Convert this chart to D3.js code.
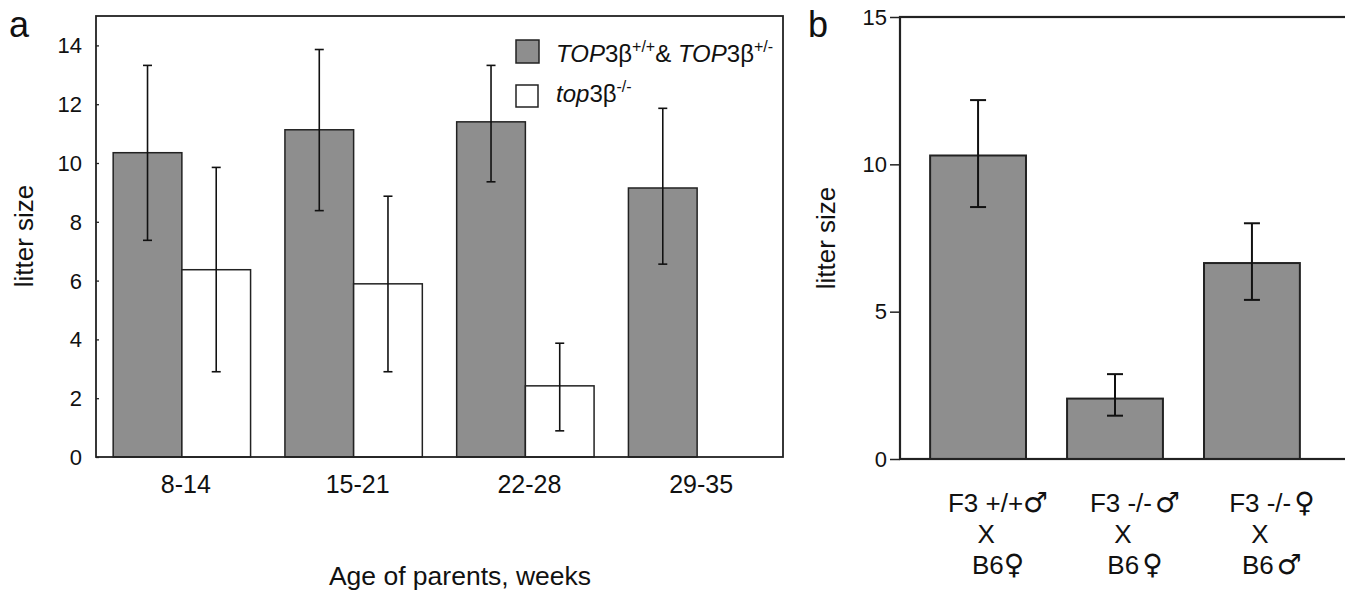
<!DOCTYPE html>
<html>
<head>
<meta charset="utf-8">
<script src="https://cdn.jsdelivr.net/npm/d3@7"></script>
<style>
body { margin: 0; background: #fff; }
text { font-family: "Liberation Sans", Arial, sans-serif; fill: #111; }
</style>
</head>
<body>
<script>
// panel a data
var ageGroups = ["8-14", "15-21", "22-28", "29-35"];
var wtMean = [10.35, 11.13, 11.4, 9.15];
var wtUpper = [13.32, 13.86, 13.32, 11.86];
var wtLower = [7.37, 8.38, 9.36, 6.56];
var koMean = [6.37, 5.89, 2.42, null];
var koUpper = [9.85, 8.87, 3.87, null];
var koLower = [2.9, 2.9, 0.89, null];
var aTicks = [0, 2, 4, 6, 8, 10, 12, 14];

// panel b data
var crosses = ["F3 +/+♂|X|B6♀", "F3 -/-♂|X|B6♀", "F3 -/-♀|X|B6♂"];
var bMean = [10.3, 2.05, 6.65];
var bUpper = [12.18, 2.88, 8.0];
var bLower = [8.55, 1.47, 5.4];
var bTicks = [0, 5, 10, 15];

var width = 1345;
var height = 591;
var gray = "#8e8e8e";

var svg = d3.select('body').append('svg')
    .attr('width', width)
    .attr('height', height);

// ---------- panel a ----------
var ma = { top: 16, right: 783, bottom: 457, left: 96 };

var x0 = d3.scaleBand()
    .domain(ageGroups)
    .range([ma.left, ma.right])
    .paddingInner(0.2)
    .paddingOuter(0.1);

var x1 = d3.scaleBand()
    .domain(["wt", "ko"])
    .range([0, x0.bandwidth()]);

var ya = d3.scaleLinear()
    .domain([0, 15])
    .range([ma.bottom, ma.top]);

var rowsA = [];
ageGroups.forEach(function (g, i) {
    rowsA.push({ g: g, s: "wt", v: wtMean[i], hi: wtUpper[i], lo: wtLower[i] });
    if (koMean[i] != null)
        rowsA.push({ g: g, s: "ko", v: koMean[i], hi: koUpper[i], lo: koLower[i] });
});

svg.append("g")
    .selectAll("rect")
    .data(rowsA)
    .enter()
    .append("rect")
    .attr("x", d => x0(d.g) + x1(d.s))
    .attr("y", d => ya(d.v))
    .attr("width", x1.bandwidth())
    .attr("height", d => ya(0) - ya(d.v))
    .attr("fill", d => d.s == "wt" ? gray : "#fff")
    .attr("stroke", "#222")
    .attr("stroke-width", 1.5);

var errA = svg.append("g")
    .attr("stroke", "#111")
    .attr("stroke-width", 1.6)
    .selectAll("g")
    .data(rowsA)
    .enter()
    .append("g")
    .attr("transform", d => `translate(${x0(d.g) + x1(d.s) + x1.bandwidth() / 2},0)`);
errA.append("line")
    .attr("y1", d => ya(d.hi))
    .attr("y2", d => ya(d.lo));
errA.append("line")
    .attr("x1", -4.5).attr("x2", 4.5)
    .attr("y1", d => ya(d.hi)).attr("y2", d => ya(d.hi));
errA.append("line")
    .attr("x1", -4.5).attr("x2", 4.5)
    .attr("y1", d => ya(d.lo)).attr("y2", d => ya(d.lo));

// frame
svg.append("rect")
    .attr("x", ma.left)
    .attr("y", ma.top)
    .attr("width", ma.right - ma.left)
    .attr("height", ma.bottom - ma.top)
    .attr("fill", "none")
    .attr("stroke", "#222")
    .attr("stroke-width", 1.8);

svg.append("g")
    .attr("transform", `translate(${ma.left},0)`)
    .call(d3.axisRight(ya).tickValues(aTicks).tickSize(3).tickFormat(""))
    .call(g => g.select(".domain").remove())
    .call(g => g.selectAll("line").attr("stroke", "#222").attr("stroke-width", 1.3));

svg.append("g")
    .selectAll("text")
    .data(aTicks)
    .enter()
    .append("text")
    .attr("x", 82)
    .attr("y", d => ya(d) + 8)
    .attr("text-anchor", "end")
    .attr("font-size", 22)
    .text(d => d);

svg.append("g")
    .selectAll("text")
    .data(ageGroups)
    .enter()
    .append("text")
    .attr("x", d => x0(d) + x0.bandwidth() / 2 + 4)
    .attr("y", 493)
    .attr("text-anchor", "middle")
    .attr("font-size", 25)
    .text(d => d);

svg.append("text")
    .attr("x", 460)
    .attr("y", 585)
    .attr("text-anchor", "middle")
    .attr("font-size", 26.5)
    .text("Age of parents, weeks");

svg.append("text")
    .attr("transform", "translate(33,236) rotate(-90)")
    .attr("text-anchor", "middle")
    .attr("font-size", 26)
    .text("litter size");

svg.append("text")
    .attr("x", 9)
    .attr("y", 37)
    .attr("font-size", 36)
    .text("a");

// legend
var leg = svg.append("g");
leg.append("rect")
    .attr("x", 516).attr("y", 40).attr("width", 23).attr("height", 23)
    .attr("fill", gray).attr("stroke", "#222").attr("stroke-width", 1.5);
leg.append("rect")
    .attr("x", 516).attr("y", 85).attr("width", 22).attr("height", 22)
    .attr("fill", "#fff").attr("stroke", "#222").attr("stroke-width", 1.5);

var t1 = leg.append("text").attr("x", 556).attr("y", 62).attr("font-size", 24);
t1.append("tspan").attr("font-style", "italic").text("TOP");
t1.append("tspan").text("3β");
t1.append("tspan").attr("font-size", 16).attr("dy", -10).text("+/+");
t1.append("tspan").attr("dy", 10).text("& ");
t1.append("tspan").attr("font-style", "italic").text("TOP");
t1.append("tspan").text("3β");
t1.append("tspan").attr("font-size", 16).attr("dy", -10).text("+/-");

var t2 = leg.append("text").attr("x", 556).attr("y", 102).attr("font-size", 24);
t2.append("tspan").attr("font-style", "italic").text("top");
t2.append("tspan").text("3β");
t2.append("tspan").attr("font-size", 16).attr("dy", -10).text("-/-");

// ---------- panel b ----------
var mb = { top: 17, right: 1360, bottom: 459, left: 900 };

var xb = d3.scaleBand()
    .domain(crosses)
    .range([mb.left, 1330])
    .paddingInner(0.3)
    .paddingOuter(0.22);

var yb = d3.scaleLinear()
    .domain([0, 15])
    .range([mb.bottom, mb.top]);

var rowsB = crosses.map((c, i) => ({ c: c, v: bMean[i], hi: bUpper[i], lo: bLower[i] }));

svg.append("g")
    .selectAll("rect")
    .data(rowsB)
    .enter()
    .append("rect")
    .attr("x", d => xb(d.c))
    .attr("y", d => yb(d.v))
    .attr("width", xb.bandwidth())
    .attr("height", d => yb(0) - yb(d.v))
    .attr("fill", gray)
    .attr("stroke", "#222")
    .attr("stroke-width", 2);

var errB = svg.append("g")
    .attr("stroke", "#111")
    .attr("stroke-width", 2)
    .selectAll("g")
    .data(rowsB)
    .enter()
    .append("g")
    .attr("transform", d => `translate(${xb(d.c) + xb.bandwidth() / 2},0)`);
errB.append("line")
    .attr("y1", d => yb(d.hi))
    .attr("y2", d => yb(d.lo));
errB.append("line")
    .attr("x1", -8).attr("x2", 8)
    .attr("y1", d => yb(d.hi)).attr("y2", d => yb(d.hi));
errB.append("line")
    .attr("x1", -8).attr("x2", 8)
    .attr("y1", d => yb(d.lo)).attr("y2", d => yb(d.lo));

svg.append("rect")
    .attr("x", mb.left)
    .attr("y", mb.top)
    .attr("width", mb.right - mb.left)
    .attr("height", mb.bottom - mb.top)
    .attr("fill", "none")
    .attr("stroke", "#222")
    .attr("stroke-width", 2.2);

svg.append("g")
    .attr("transform", `translate(${mb.left},0)`)
    .call(d3.axisLeft(yb).tickValues(bTicks).tickSize(10).tickPadding(3))
    .call(g => g.select(".domain").remove())
    .call(g => g.selectAll("line").attr("stroke", "#222").attr("stroke-width", 1.5))
    .call(g => g.selectAll("text")
        .attr("font-size", 22)
        .attr("font-family", "Liberation Sans, Arial, sans-serif")
        .attr("fill", "#111"));

// x labels: three lines, the sex symbols drawn larger
var lineY = [512, 543, 574];
var lineDx = [20, 8, 20];
var xl = svg.append("g")
    .selectAll("text")
    .data(crosses)
    .enter()
    .append("text")
    .attr("text-anchor", "middle")
    .attr("font-size", 26);
xl.each(function (d, i) {
    var parts = d.split("|");
    var cx = xb(d) + xb.bandwidth() / 2;
    var el = d3.select(this);
    parts.forEach(function (p, k) {
        var first = true;
        p.split(/([♂♀])/).filter(s => s.length).forEach(function (s) {
            var ts = el.append("tspan").text(s);
            if (first) ts.attr("x", cx + lineDx[k]).attr("y", lineY[k]);
            first = false;
            if (s == "♂" || s == "♀") {
                ts.attr("font-family", "DejaVu Sans").attr("font-size", 28);
                if (i > 0) ts.attr("dx", 3);
            }
        });
    });
});

svg.append("text")
    .attr("transform", "translate(835,238) rotate(-90)")
    .attr("text-anchor", "middle")
    .attr("font-size", 26)
    .text("litter size");

svg.append("text")
    .attr("x", 808)
    .attr("y", 37)
    .attr("font-size", 36)
    .text("b");
</script>
</body>
</html>
